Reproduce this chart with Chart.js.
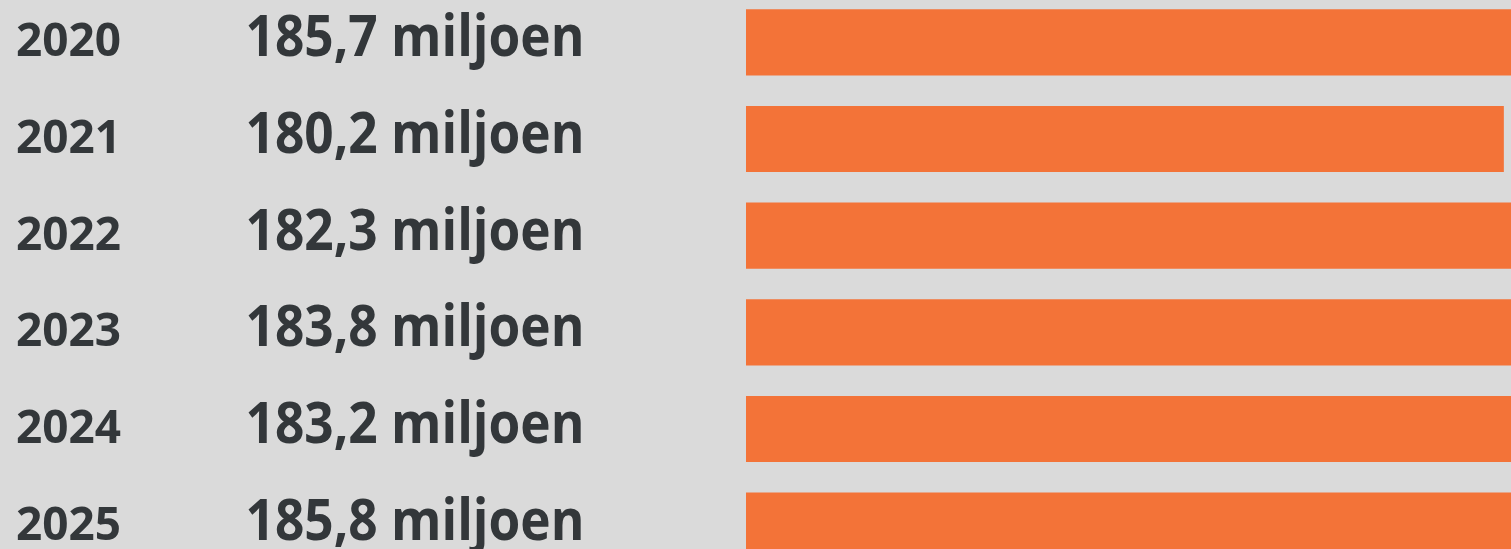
<!DOCTYPE html>
<html>
<head>
<meta charset="utf-8">
<script src="https://cdn.jsdelivr.net/npm/chart.js@4"></script>
<style>
    html, body { margin: 0; padding: 0; background: #dadada; overflow: hidden; width: 1511px; height: 549px; }
    #wrap { position: absolute; left: 0; top: -6px; width: 1511px; height: 580px; }
</style>
</head>
<body>
<div id="wrap"><canvas id="chart"></canvas></div>
<script>
const years = ["2020", "2021", "2022", "2023", "2024", "2025"];
const values = [185.7, 180.2, 182.3, 183.8, 183.2, 185.8];
const valueLabels = ["185,7 miljoen", "180,2 miljoen", "182,3 miljoen", "183,8 miljoen", "183,2 miljoen", "185,8 miljoen"];

const textColor = "#33373a";
const fontFamily = "'Open Sans', sans-serif";

// draws the year and value text left of the bars
// (fillText maxWidth squeezes Open Sans down to the narrow original face)
const sideLabels = {
    id: "sideLabels",
    afterDraw(chart) {
        const ctx = chart.ctx;
        const yScale = chart.scales.y;
        ctx.save();
        ctx.fillStyle = textColor;
        ctx.textBaseline = "alphabetic";
        years.forEach((year, i) => {
            const y = yScale.getPixelForValue(i) + 14;
            ctx.font = "bold 46px " + fontFamily;
            ctx.textAlign = "left";
            ctx.fillText(year, 16, y, 105);
            ctx.font = "bold 57px " + fontFamily;
            ctx.textAlign = "center";
            ctx.fillText(valueLabels[i], 415, y, 339);
        });
        ctx.restore();
    }
};

new Chart(document.getElementById("chart"), {
    type: "bar",
    data: {
        labels: years,
        datasets: [{
            data: values,
            backgroundColor: "#f37338",
            barPercentage: 0.685,
            categoryPercentage: 1
        }]
    },
    options: {
        indexAxis: "y",
        responsive: true,
        maintainAspectRatio: false,
        animation: false,
        layout: { padding: { left: 746, right: 0, top: 0, bottom: 0 } },
        plugins: { legend: { display: false }, tooltip: { enabled: false } },
        scales: {
            x: { display: false, min: 0, max: 181.9 },
            y: { display: false }
        }
    },
    plugins: [sideLabels]
});
</script>
</body>
</html>
